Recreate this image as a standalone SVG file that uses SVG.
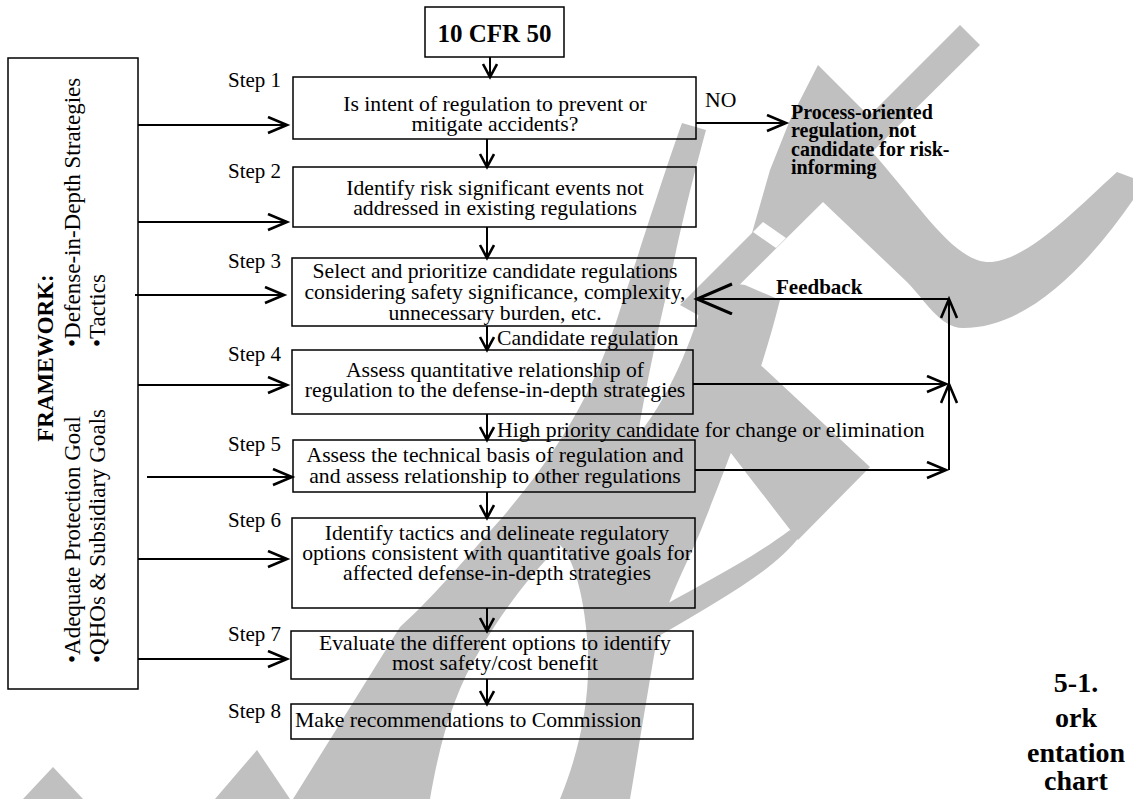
<svg xmlns="http://www.w3.org/2000/svg" width="1133" height="799" viewBox="0 0 1133 799">
<style>
.box{fill:none;stroke:#000;stroke-width:1.5}
.ln{fill:none;stroke:#000;stroke-width:2}
.t{font-family:"Liberation Serif","Times New Roman",serif;font-size:21.7px;fill:#000}
.c{text-anchor:middle}
.st{font-family:"Liberation Serif","Times New Roman",serif;font-size:21px;fill:#000}
.b{font-family:"Liberation Serif","Times New Roman",serif;font-weight:bold;fill:#000}
.fw{font-family:"Liberation Serif","Times New Roman",serif;font-size:23px;fill:#000}
.wm{fill:#c0c0c0;stroke:none}
</style>
<defs>
<marker id="arr" markerUnits="userSpaceOnUse" markerWidth="24" markerHeight="20" refX="20" refY="9" orient="auto"><path d="M1,1 L20,9 L1,17" fill="none" stroke="#000" stroke-width="2.6"/></marker>
<marker id="arrs" markerUnits="userSpaceOnUse" markerWidth="18" markerHeight="18" refX="14" refY="8" orient="auto"><path d="M1,1 L14,8 L1,15" fill="none" stroke="#000" stroke-width="2.6"/></marker>
<marker id="arrb" markerUnits="userSpaceOnUse" markerWidth="40" markerHeight="34" refX="36" refY="16" orient="auto"><path d="M1,1 L36,16 L1,31" fill="none" stroke="#000" stroke-width="3"/></marker>
</defs>
<g id="watermark">
<path class="wm" d="M960,25 L980,45 L872,152 C920,205 955,265 992,262 C1030,258 1075,210 1117,172 L1133,178 L1133,200 C1090,262 1030,328 963,328 C940,328 925,300 907,282 L823,202 L705,319 L680,305 L752,233 L770,170 L790,120 L818,65 L869,116 Z"/>
<polygon fill="#fff" points="753,232 763,222 786,238 776,248"/>
<path class="wm" d="M682,123 C665,170 640,250 620,310 C595,390 560,450 500,520 C460,565 430,600 400,627 L293,799 L430,799 C440,740 455,690 480,650 C500,615 530,575 560,545 C575,560 585,600 588,650 C590,700 580,750 560,799 L630,799 C640,740 648,690 655,650 C665,600 690,560 705,520 C725,470 760,380 780,300 L745,285 L710,280 C695,330 675,390 638,435 C645,390 660,320 670,280 C680,230 695,170 706,130 Z"/>
<polygon class="wm" points="700,300 723,330 870,467 798,540 690,400"/>
<path class="wm" d="M800,536 C775,570 720,600 652,640 L665,605 C700,585 750,560 790,530 Z"/>
<polygon class="wm" points="53,767 23,799 83,799"/>
<polygon class="wm" points="257,750 215,799 290,799"/>
</g>
<g id="connectors">
<line class="ln" x1="490" y1="57" x2="490" y2="77" marker-end="url(#arrs)"/>
<line class="ln" x1="487" y1="139" x2="487" y2="167" marker-end="url(#arrs)"/>
<line class="ln" x1="487" y1="227" x2="487" y2="258" marker-end="url(#arrs)"/>
<line class="ln" x1="487" y1="326" x2="487" y2="350" marker-end="url(#arrs)"/>
<line class="ln" x1="487" y1="414" x2="487" y2="440" marker-end="url(#arrs)"/>
<line class="ln" x1="487" y1="492" x2="487" y2="518" marker-end="url(#arrs)"/>
<line class="ln" x1="487" y1="608" x2="487" y2="631" marker-end="url(#arrs)"/>
<line class="ln" x1="487" y1="679" x2="487" y2="704" marker-end="url(#arrs)"/>
<line class="ln" x1="138" y1="125" x2="287" y2="125" marker-end="url(#arr)"/>
<line class="ln" x1="138" y1="222" x2="287" y2="222" marker-end="url(#arr)"/>
<line class="ln" x1="135" y1="295" x2="284" y2="295" marker-end="url(#arr)"/>
<line class="ln" x1="138" y1="385" x2="287" y2="385" marker-end="url(#arr)"/>
<line class="ln" x1="147" y1="477" x2="292" y2="477" marker-end="url(#arr)"/>
<line class="ln" x1="138" y1="559" x2="287" y2="559" marker-end="url(#arr)"/>
<line class="ln" x1="138" y1="659" x2="287" y2="659" marker-end="url(#arr)"/>
<line class="ln" x1="696" y1="123" x2="786" y2="123" marker-end="url(#arr)"/>
<line class="ln" x1="693" y1="384" x2="946" y2="384" marker-end="url(#arr)"/>
<line class="ln" x1="695" y1="470" x2="946" y2="470" marker-end="url(#arr)"/>
<line class="ln" x1="949" y1="470" x2="949" y2="384" marker-end="url(#arr)"/>
<line class="ln" x1="949" y1="384" x2="949" y2="299" marker-end="url(#arr)"/>
<line class="ln" x1="949" y1="299" x2="697" y2="299" marker-end="url(#arrb)"/>
</g>
<g id="cfr">
<rect class="box" x="425" y="7" width="139" height="50"/>
<text class="b c" x="494.5" y="42" font-size="25">10 CFR 50</text>
</g>
<g id="framework">
<rect class="box" x="8" y="58" width="130" height="631"/>
<g transform="rotate(-90)">
<text class="b c" x="-358" y="53" font-size="23">FRAMEWORK:</text>
<text class="fw" x="-663" y="80">•Adequate Protection Goal</text>
<text class="fw" x="-663" y="105">•QHOs &amp; Subsidiary Goals</text>
<text class="fw" x="-347" y="80">•Defense-in-Depth Strategies</text>
<text class="fw" x="-347" y="105">•Tactics</text>
</g>
</g>
<g id="step1">
<text class="st" x="228" y="87">Step 1</text>
<rect class="box" x="293" y="77" width="403" height="62"/>
<text class="t c" x="495" y="111">Is intent of regulation to prevent or</text>
<text class="t c" x="495" y="131">mitigate accidents?</text>
</g>
<g id="no-result">
<text class="t" x="705" y="107">NO</text>
<text class="b" font-size="20" x="791" y="119">Process-oriented</text>
<text class="b" font-size="20" x="791" y="137">regulation, not</text>
<text class="b" font-size="20" x="791" y="156">candidate for risk-</text>
<text class="b" font-size="20" x="791" y="174">informing</text>
</g>
<g id="step2">
<text class="st" x="228" y="178">Step 2</text>
<rect class="box" x="293" y="167" width="403" height="60"/>
<text class="t c" x="495" y="195">Identify risk significant events not</text>
<text class="t c" x="495" y="215">addressed in existing regulations</text>
</g>
<g id="step3">
<text class="st" x="228" y="268">Step 3</text>
<rect class="box" x="292" y="258" width="404" height="68"/>
<text class="t c" x="495" y="278">Select and prioritize candidate regulations</text>
<text class="t c" x="495" y="299">considering safety significance, complexity,</text>
<text class="t c" x="495" y="320">unnecessary burden, etc.</text>
</g>
<g id="feedback">
<text class="b" font-size="21" x="776" y="294">Feedback</text>
</g>
<g id="labels">
<text class="t" x="497" y="345">Candidate regulation</text>
<text class="t" x="497" y="437">High priority candidate for change or elimination</text>
</g>
<g id="step4">
<text class="st" x="228" y="361">Step 4</text>
<rect class="box" x="292" y="350" width="401" height="64"/>
<text class="t c" x="495" y="377">Assess quantitative relationship of</text>
<text class="t c" x="495" y="397">regulation to the defense-in-depth strategies</text>
</g>
<g id="step5">
<text class="st" x="228" y="451">Step 5</text>
<rect class="box" x="293" y="440" width="402" height="52"/>
<text class="t c" x="495" y="462">Assess the technical basis of regulation and</text>
<text class="t c" x="495" y="483">and assess relationship to other regulations</text>
</g>
<g id="step6">
<text class="st" x="228" y="527">Step 6</text>
<rect class="box" x="292" y="518" width="403" height="90"/>
<text class="t c" x="497" y="540">Identify tactics and delineate regulatory</text>
<text class="t c" x="497" y="560">options consistent with quantitative goals for</text>
<text class="t c" x="497" y="580">affected defense-in-depth strategies</text>
</g>
<g id="step7">
<text class="st" x="228" y="641">Step 7</text>
<rect class="box" x="291" y="631" width="402" height="48"/>
<text class="t c" x="495" y="650">Evaluate the different options to identify</text>
<text class="t c" x="495" y="670">most safety/cost benefit</text>
</g>
<g id="step8">
<text class="st" x="228" y="718">Step 8</text>
<rect class="box" x="291" y="704" width="402" height="35"/>
<text class="t" x="295" y="727">Make recommendations to Commission</text>
</g>
<g id="caption">
<text class="b c" font-size="28" x="1076" y="692">5-1.</text>
<text class="b c" font-size="28" x="1076" y="727">ork</text>
<text class="b c" font-size="28" x="1076" y="762">entation</text>
<text class="b c" font-size="28" x="1076" y="790">chart</text>
</g>
</svg>
